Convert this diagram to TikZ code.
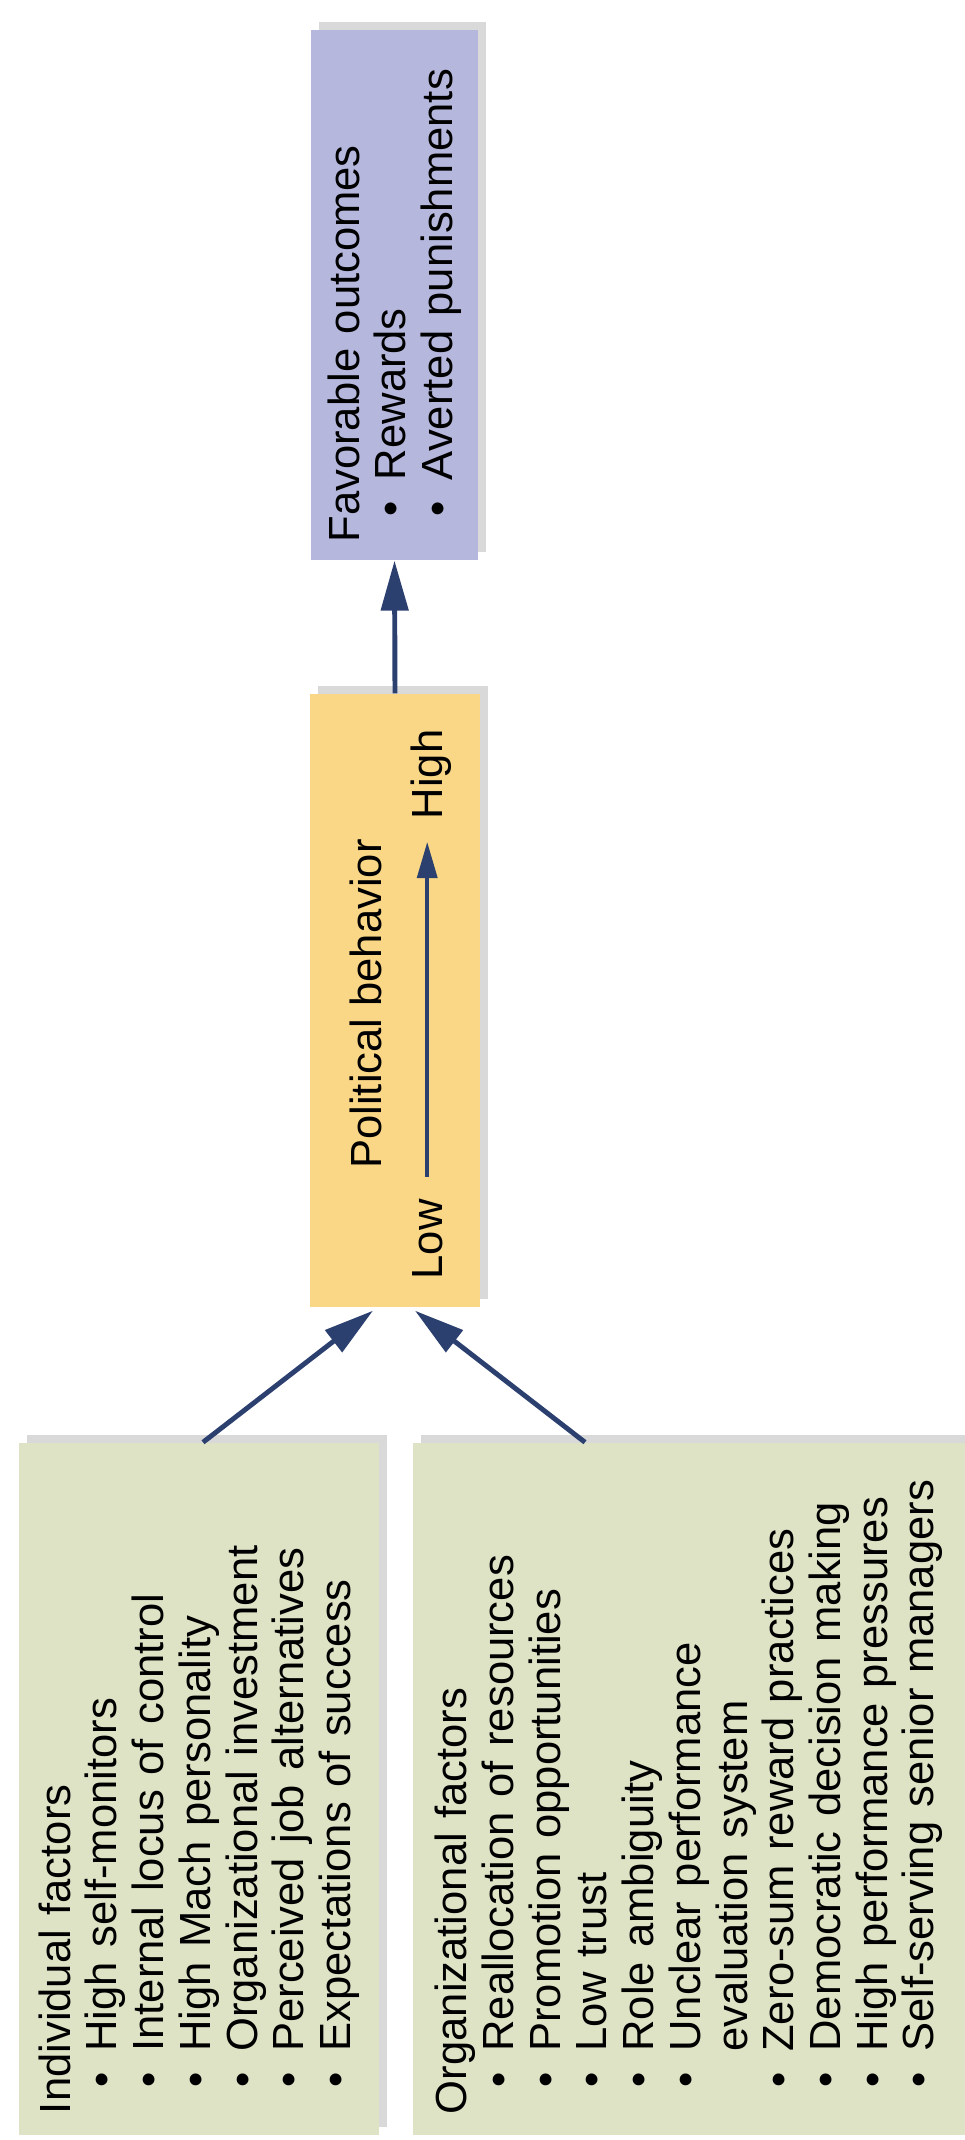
\documentclass[tikz,border=0pt]{standalone}
\usepackage{fontspec}
\setmainfont{Liberation Sans}
\usetikzlibrary{arrows.meta,shadows}

\definecolor{factorgreen}{RGB}{223,227,198}
\definecolor{behavioryellow}{RGB}{250,215,135}
\definecolor{outcomepurple}{RGB}{181,183,220}
\definecolor{arrownavy}{RGB}{44,64,112}

\newcommand{\itm}{\hspace*{0.6em}\textbullet\hspace{0.48em}}
\newcommand{\cnt}{\hphantom{\itm}}

\begin{document}
\begin{tikzpicture}[
    box/.style={rectangle, rotate=90, align=left, inner sep=0pt,
      font=\fontsize{12.4}{13.3}\selectfont,
      drop shadow={shadow xshift=0.8mm, shadow yshift=0.8mm, opacity=0.3}},
    lbl/.style={rotate=90, inner sep=0pt, font=\fontsize{12.4}{13.3}\selectfont},
    link/.style={draw=arrownavy, line width=1.4pt, -{Triangle[length=5mm, width=2.7mm]}}
  ]
  \useasboundingbox (0,0) rectangle (9.65,21.4);

  % Nodes
  \node[box, fill=outcomepurple, minimum width=5.3cm, minimum height=1.67cm, text width=4.95cm] (outcomes) at (3.945,18.45) {Favorable outcomes
  \\ \itm Rewards
  \\ \itm Averted punishments};

  \node[box, fill=behavioryellow, minimum width=6.13cm, minimum height=1.7cm] (behavior) at (3.95,11.395) {};
  \node[lbl, anchor=base] (title) at (3.81,11.36) {Political behavior};
  \node[lbl, anchor=base west] (low) at (4.42,8.60) {Low};
  \node[lbl, anchor=base east] (high) at (4.42,14.11) {High};

  \node[box, fill=factorgreen, minimum width=6.92cm, minimum height=3.6cm, text width=6.5cm] (individual) at (1.99,3.51) {Individual factors
  \\ \itm High self-monitors
  \\ \itm Internal locus of control
  \\ \itm High Mach personality
  \\ \itm Organizational investment
  \\ \itm Perceived job alternatives
  \\ \itm Expectations of success};

  \node[box, fill=factorgreen, minimum width=6.92cm, minimum height=5.52cm, text width=6.5cm] (organizational) at (6.89,3.51) {Organizational factors
  \\ \itm Reallocation of resources
  \\ \itm Promotion opportunities
  \\ \itm Low trust
  \\ \itm Role ambiguity
  \\ \itm Unclear performance
  \\ \cnt evaluation system
  \\ \itm Zero-sum reward practices
  \\ \itm Democratic decision making
  \\ \itm High performance pressures
  \\ \itm Self-serving senior managers};

  % Arrows
  \draw[link] (behavior.east) -- (outcomes.west);
  \draw[link] ([xshift=0.4mm]individual.east) -- ([xshift=-2.2mm, yshift=-0.3mm]behavior.west);
  \draw[link] ([xshift=-10.4mm]organizational.east) -- ([xshift=2mm, yshift=-0.3mm]behavior.west);
  \draw[draw=arrownavy, line width=1pt, -{Triangle[length=3.6mm, width=2mm]}, shorten <=2.2mm, shorten >=2.2mm] (low.east) -- (low.east |- high.west);
\end{tikzpicture}
\end{document}
